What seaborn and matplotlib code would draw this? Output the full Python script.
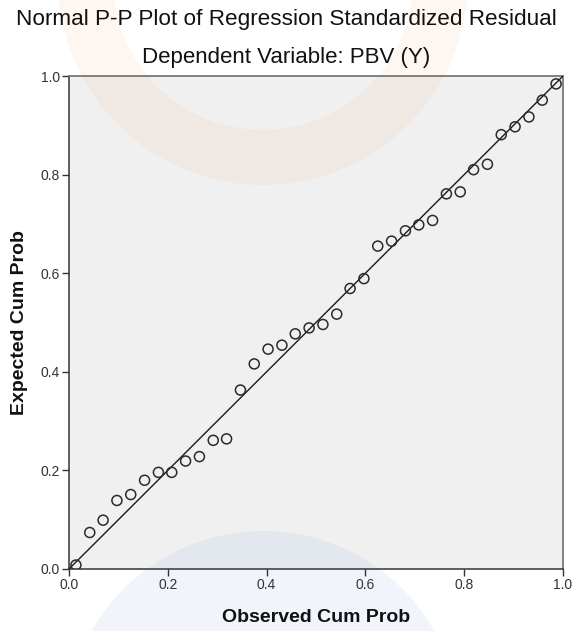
import numpy as np
import pandas as pd
import seaborn as sns
import matplotlib
matplotlib.use("Agg")
import matplotlib.pyplot as plt
from matplotlib.transforms import Affine2D
from matplotlib.patches import Wedge, Circle

# ---- data ----
observed_cum_prob = [0.014, 0.042, 0.069, 0.097, 0.125, 0.153, 0.181, 0.208, 0.236,
                     0.264, 0.292, 0.319, 0.347, 0.375, 0.403, 0.431, 0.458, 0.486,
                     0.514, 0.542, 0.569, 0.597, 0.625, 0.653, 0.681, 0.708, 0.736,
                     0.764, 0.792, 0.819, 0.847, 0.875, 0.903, 0.931, 0.958, 0.986]
expected_cum_prob = [0.008, 0.074, 0.099, 0.139, 0.151, 0.180, 0.196, 0.196, 0.219,
                     0.228, 0.261, 0.264, 0.363, 0.416, 0.446, 0.454, 0.477, 0.489,
                     0.496, 0.517, 0.569, 0.589, 0.655, 0.665, 0.686, 0.698, 0.707,
                     0.761, 0.765, 0.810, 0.821, 0.881, 0.897, 0.917, 0.951, 0.984]
ref_line_x = [0.0, 1.0]
ref_line_y = [0.0, 1.0]
tick_values = [0.0, 0.2, 0.4, 0.6, 0.8, 1.0]
tick_labels = ["0.0", "0.2", "0.4", "0.6", "0.8", "1.0"]

title = "Normal P-P Plot of Regression Standardized Residual"
subtitle = "Dependent Variable: PBV (Y)"
x_label = "Observed Cum Prob"
y_label = "Expected Cum Prob"

df = pd.DataFrame({"obs": observed_cum_prob, "exp": expected_cum_prob})
line_df = pd.DataFrame({"x": ref_line_x, "y": ref_line_y})

sns.set_style("white")
plt.rcParams["font.family"] = ["Liberation Sans", "DejaVu Sans"]

W, H = 572, 631
fig = plt.figure(figsize=(W / 100, H / 100), dpi=100)
fig.patch.set_facecolor("white")

ax_left, ax_right, ax_top, ax_bottom = 69, 563, 76, 569
ax = fig.add_axes([ax_left / W, 1 - ax_bottom / H, (ax_right - ax_left) / W, (ax_bottom - ax_top) / H])
ax.set_facecolor("#f0f0f0")

# ---- faint background watermark shapes (pixel coordinates, y downwards) ----
px = Affine2D().scale(1 / W, -1 / H).translate(0, 1) + fig.transFigure
blue = (0.55, 0.70, 0.90)
ax.add_patch(Wedge((263, -20), 205, 0, 360, width=55, transform=px, facecolor=(0.96, 0.55, 0.25),
                   alpha=0.07, edgecolor="none", zorder=0.5, clip_on=False))
ax.add_patch(Circle((263, 728), 197, transform=px, facecolor=blue, alpha=0.12,
                    edgecolor="none", zorder=0.5, clip_on=False))

# ---- marks ----
sns.lineplot(data=line_df, x="x", y="y", ax=ax, color="#1a1a1a", linewidth=1.0, zorder=3)
sns.scatterplot(data=df, x="obs", y="exp", ax=ax, s=52, marker="o", facecolor="none",
                edgecolor="#2b2b2b", linewidth=1.1, zorder=4)

ax.set_xlim(0, 1)
ax.set_ylim(0, 1)
ax.set_xticks(tick_values)
ax.set_xticklabels(tick_labels)
ax.set_yticks(tick_values)
ax.set_yticklabels(tick_labels)
ax.tick_params(axis="both", direction="out", length=5, width=1.0, color="#333333",
               labelsize=10, labelcolor="#333333", pad=1.5, bottom=True, left=True)

for side in ["left", "bottom"]:
    ax.spines[side].set_color("#333333")
    ax.spines[side].set_linewidth(1.1)
for side in ["top", "right"]:
    ax.spines[side].set_visible(True)
    ax.spines[side].set_color("#777777")
    ax.spines[side].set_linewidth(1.3)

ax.set_xlabel(x_label, fontsize=14, fontweight="bold", color="#111111", labelpad=12)
ax.set_ylabel(y_label, fontsize=14, fontweight="bold", color="#111111", labelpad=9)

fig.text(0.5, 1 - 19 / H, title, ha="center", va="center", fontsize=16.2, color="#111111")
fig.text(0.5, 1 - 58 / H, subtitle, ha="center", va="center", fontsize=16, color="#111111")

fig.savefig("out.png", dpi=100)
